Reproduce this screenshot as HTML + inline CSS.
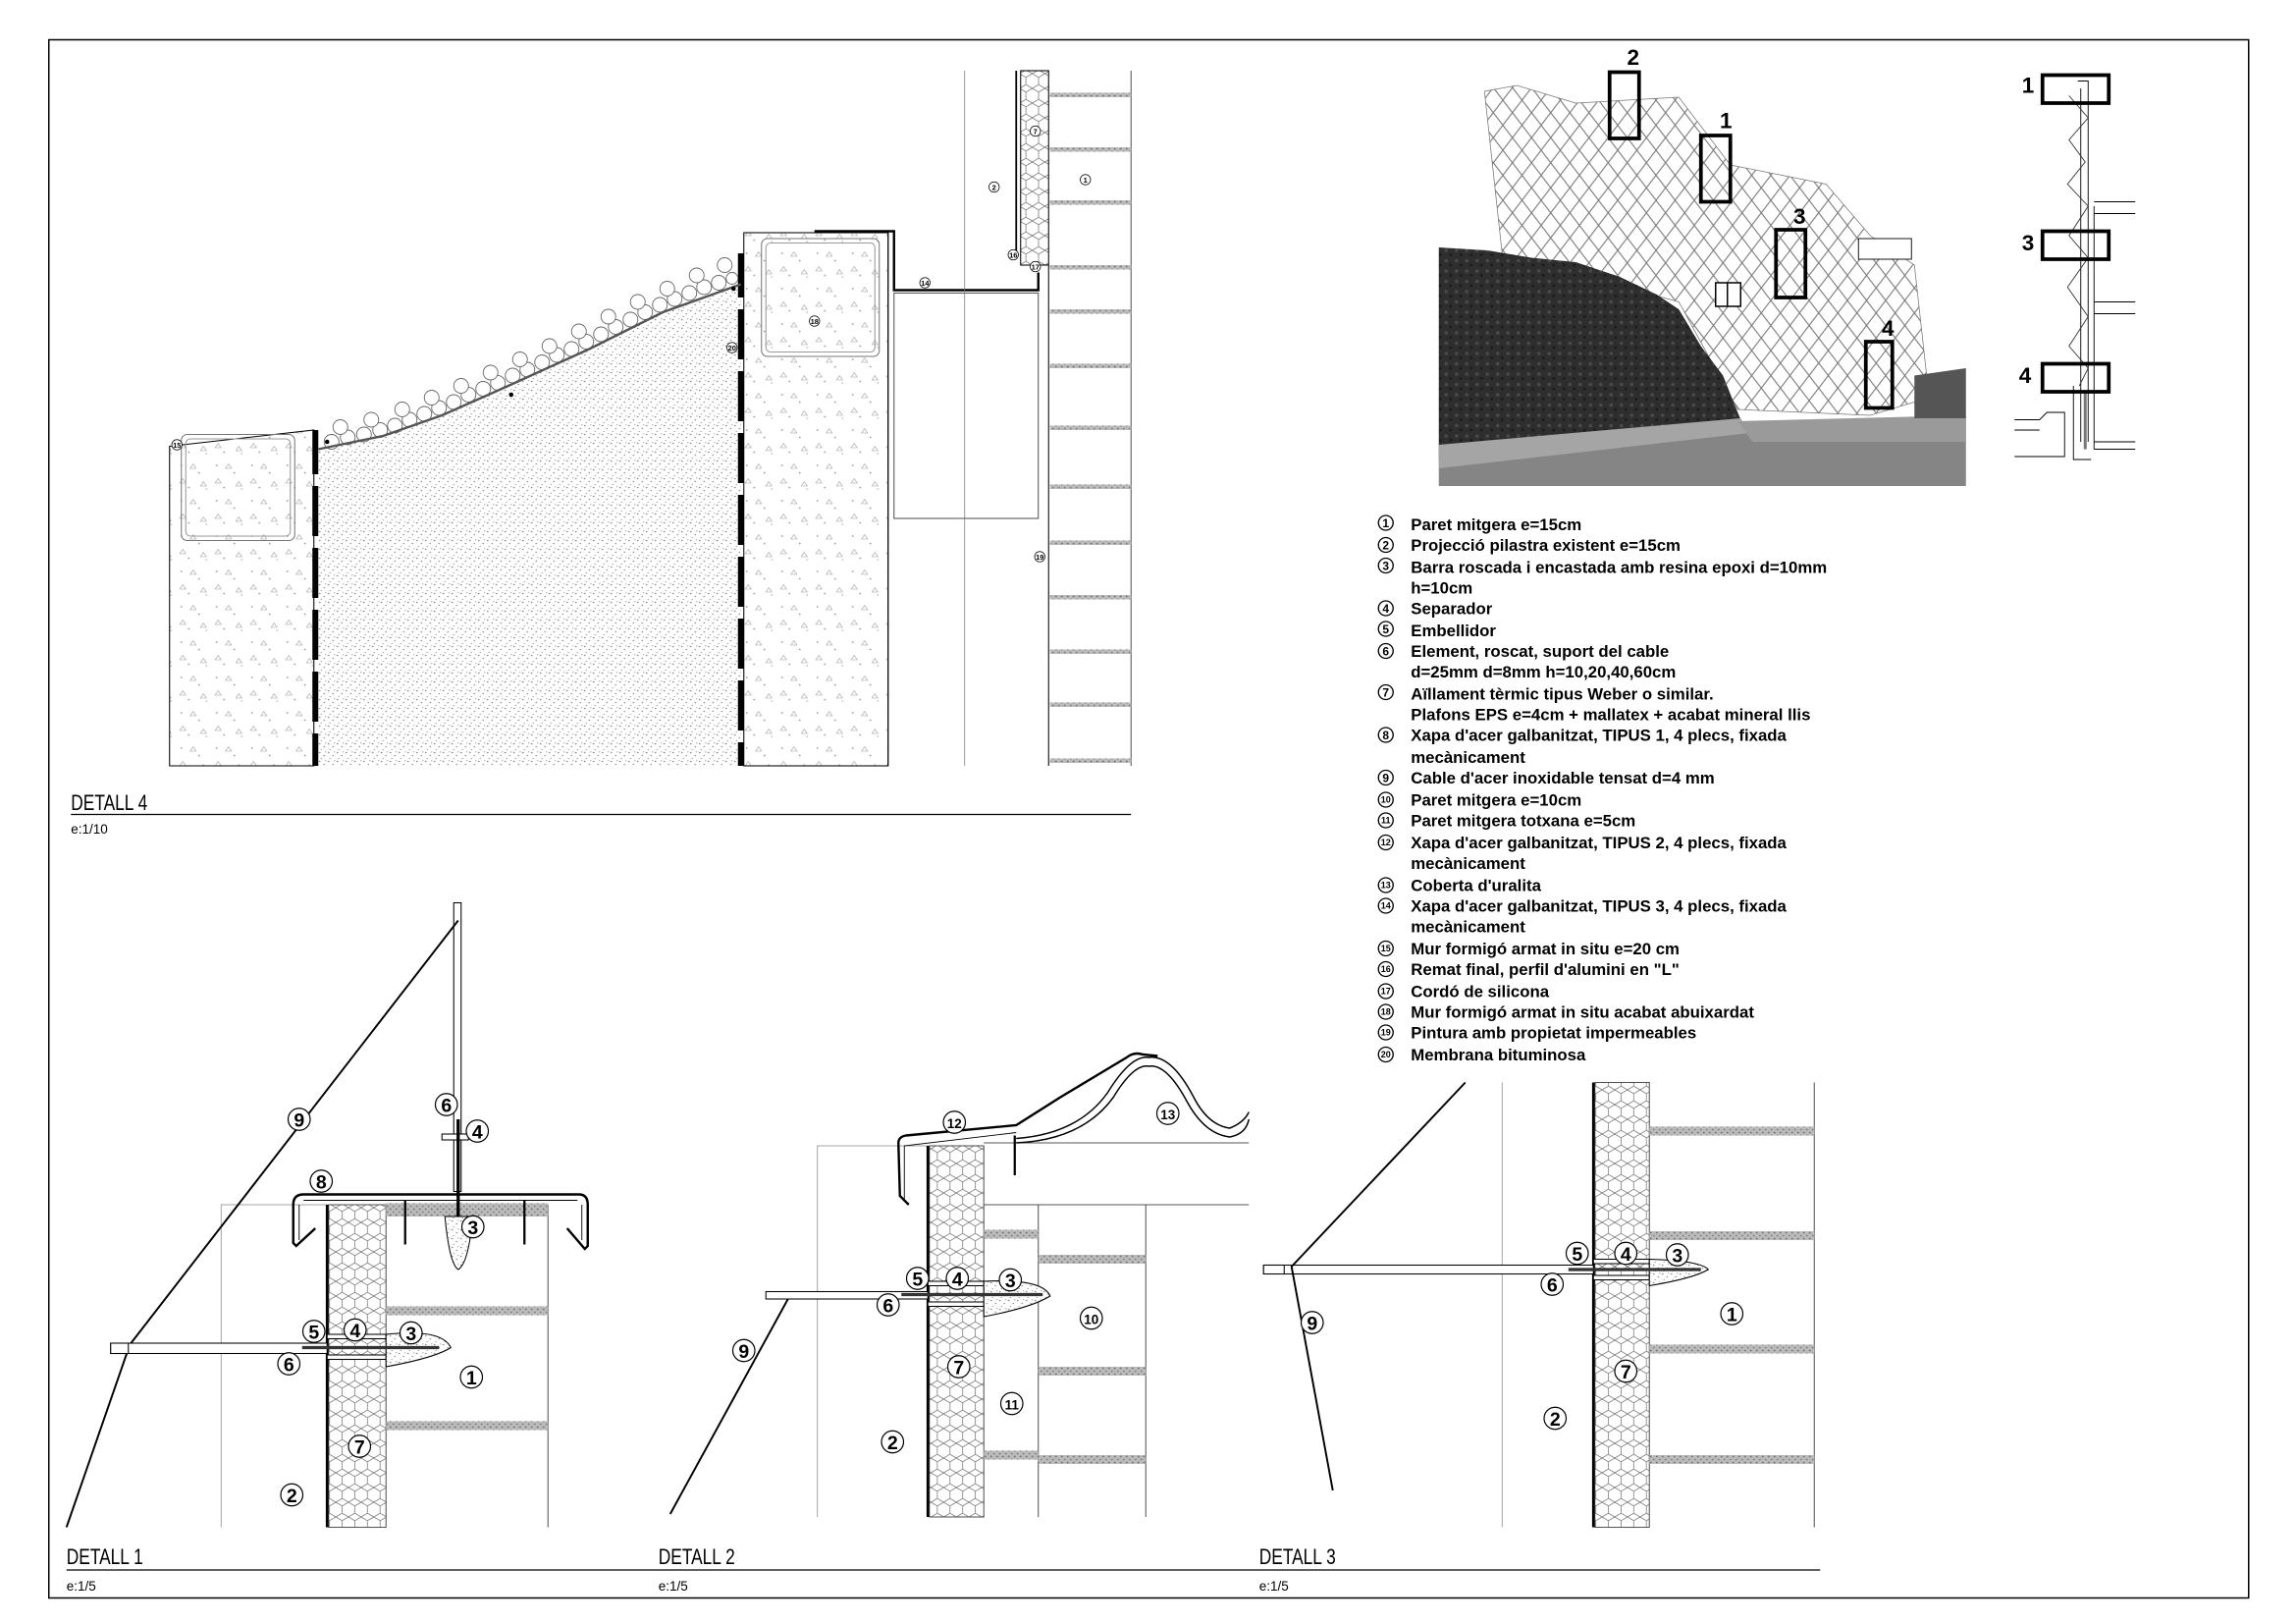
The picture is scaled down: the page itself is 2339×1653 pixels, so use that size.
<!DOCTYPE html>
<html><head><meta charset="utf-8"><style>
html,body{margin:0;padding:0;background:#fff}
svg{display:block}
.t{font-family:"Liberation Sans",sans-serif}
.lg{font-family:"Liberation Sans",sans-serif;font-weight:bold;font-size:11.2px;fill:#000}
.ti{font-family:"Liberation Sans",sans-serif;font-size:15px;fill:#000}
.sc{font-family:"Liberation Sans",sans-serif;font-size:9px;fill:#000}
.cn{font-family:"Liberation Sans",sans-serif;font-weight:bold;text-anchor:middle;fill:#000}
</style></head><body>
<svg width="2339" height="1653" viewBox="0 0 1559 1102" xmlns="http://www.w3.org/2000/svg">
<defs>
 <pattern id="stip" width="6" height="6" patternUnits="userSpaceOnUse">
  <rect width="6" height="6" fill="#fff"/>
  <circle cx="1" cy="1" r="0.5" fill="#777"/><circle cx="4" cy="3" r="0.5" fill="#888"/><circle cx="2" cy="5" r="0.45" fill="#999"/><circle cx="5" cy="0.5" r="0.4" fill="#999"/>
 </pattern>
 <pattern id="conc" width="24" height="24" patternUnits="userSpaceOnUse">
  <rect width="24" height="24" fill="#fff"/>
  <circle cx="3" cy="4" r="0.6" fill="#999"/><circle cx="15" cy="9" r="0.6" fill="#999"/><circle cx="8" cy="19" r="0.6" fill="#999"/><circle cx="20" cy="20" r="0.5" fill="#aaa"/>
  <path d="M11 3 l2 3 h-4z M4 13 l2 3 h-4z M18 15 l2 3 h-4z" fill="none" stroke="#999" stroke-width="0.4"/>
 </pattern>
 <pattern id="hex" width="8.6" height="10" patternUnits="userSpaceOnUse">
  <rect width="8.6" height="10" fill="#fff"/>
  <path d="M0 2.5 L4.3 0 L8.6 2.5 L8.6 7.5 L4.3 10 L0 7.5 Z" fill="none" stroke="#777" stroke-width="0.5"/>
 </pattern>
 <pattern id="band" width="4" height="4" patternUnits="userSpaceOnUse">
  <rect width="4" height="4" fill="#bbb"/><circle cx="1" cy="1" r="0.6" fill="#666"/><circle cx="3" cy="3" r="0.6" fill="#777"/>
 </pattern>
 <pattern id="dia" width="13" height="17" patternUnits="userSpaceOnUse">
  <path d="M0 8.5 L6.5 0 L13 8.5 L6.5 17 Z" fill="none" stroke="#777" stroke-width="0.7"/>
 </pattern>
 <pattern id="rock" width="7" height="7" patternUnits="userSpaceOnUse">
  <rect width="7" height="7" fill="#2e2e2e"/><circle cx="2" cy="2" r="1.2" fill="#4a4a4a"/><circle cx="5" cy="5" r="1" fill="#1c1c1c"/>
 </pattern>
</defs>

<rect x="33" y="27" width="1494" height="1058" fill="none" stroke="#000" stroke-width="1"/>

<!-- ============ DETAIL 4 ============ -->
<g stroke="#000" stroke-width="0.7">
 <polygon points="115,303 213,292 213,520 115,520" fill="url(#conc)"/>
 <rect x="123" y="295" width="77" height="72" rx="4" fill="none" stroke="#777"/>
 <rect x="126" y="298" width="71" height="66" rx="3" fill="none" stroke="#999"/>
 <path d="M216,305 L260,296 L300,282 L345,262 L400,237 L450,212 L503,193 L503,520 L216,520 Z" fill="url(#stip)" stroke="none"/>
 <rect x="505" y="158" width="98" height="362" fill="url(#conc)"/>
 <rect x="517" y="162" width="80" height="80" rx="4" fill="none" stroke="#777"/>
 <rect x="520" y="165" width="74" height="74" rx="3" fill="none" stroke="#999"/>
 <path d="M553,157 L607,157 L607,197 L705,197 L705,185" fill="none" stroke="#000" stroke-width="1.6"/>
 <rect x="607" y="199" width="98" height="153" fill="none" stroke="#555"/>
 <line x1="655" y1="48" x2="655" y2="520" stroke="#777" stroke-width="0.5"/>
 <line x1="603" y1="158" x2="603" y2="520"/>
 <rect x="693" y="48" width="19" height="132" fill="url(#hex)"/>
 <line x1="690" y1="48" x2="690" y2="175" stroke-width="1.2"/>
 <line x1="712" y1="180" x2="712" y2="520"/>
 <line x1="768" y1="48" x2="768" y2="520" stroke="#555"/>
</g>
<g fill="#000">
 <rect x="212" y="292" width="4" height="30"/><rect x="212" y="330" width="4" height="34"/><rect x="212" y="372" width="4" height="34"/><rect x="212" y="414" width="4" height="34"/><rect x="212" y="456" width="4" height="34"/><rect x="212" y="498" width="4" height="22"/>
 <rect x="501" y="172" width="4" height="30"/><rect x="501" y="210" width="4" height="34"/><rect x="501" y="252" width="4" height="34"/><rect x="501" y="294" width="4" height="34"/><rect x="501" y="336" width="4" height="34"/><rect x="501" y="378" width="4" height="34"/><rect x="501" y="420" width="4" height="34"/><rect x="501" y="462" width="4" height="34"/><rect x="501" y="504" width="4" height="16"/>
</g>
<g fill="url(#band)">
 <rect x="713" y="63" width="55" height="3"/><rect x="713" y="100" width="55" height="3"/><rect x="713" y="136" width="55" height="3"/><rect x="713" y="180" width="55" height="3"/><rect x="713" y="210" width="55" height="3"/><rect x="713" y="247" width="55" height="3"/><rect x="713" y="289" width="55" height="3"/><rect x="713" y="329" width="55" height="3"/><rect x="713" y="367" width="55" height="3"/><rect x="713" y="404" width="55" height="3"/><rect x="713" y="441" width="55" height="3"/><rect x="713" y="477" width="55" height="3"/><rect x="713" y="515" width="55" height="3"/>
</g>
<!-- gravel (two rows) -->
<g fill="#fff" stroke="#666" stroke-width="0.6">
 <circle cx="225" cy="300" r="5"/><circle cx="236" cy="297" r="5"/><circle cx="247" cy="295" r="5"/><circle cx="258" cy="292" r="5"/><circle cx="268" cy="289" r="5"/><circle cx="278" cy="285" r="5"/><circle cx="288" cy="281" r="5"/><circle cx="298" cy="277" r="5"/><circle cx="308" cy="273" r="5"/><circle cx="318" cy="268" r="5"/><circle cx="328" cy="264" r="5"/><circle cx="338" cy="260" r="5"/><circle cx="348" cy="255" r="5"/><circle cx="358" cy="251" r="5"/><circle cx="368" cy="246" r="5"/><circle cx="378" cy="241" r="5"/><circle cx="388" cy="237" r="5"/><circle cx="398" cy="232" r="5"/><circle cx="408" cy="227" r="5"/><circle cx="418" cy="222" r="5"/><circle cx="428" cy="217" r="5"/><circle cx="438" cy="212" r="5"/><circle cx="448" cy="207" r="5"/><circle cx="458" cy="203" r="5"/><circle cx="468" cy="199" r="5"/><circle cx="478" cy="195" r="5"/><circle cx="488" cy="192" r="5"/><circle cx="497" cy="189" r="4"/>
 <circle cx="231" cy="290" r="5"/><circle cx="252" cy="285" r="5"/><circle cx="273" cy="278" r="5"/><circle cx="293" cy="270" r="5"/><circle cx="313" cy="262" r="5"/><circle cx="333" cy="253" r="5"/><circle cx="353" cy="244" r="5"/><circle cx="373" cy="235" r="5"/><circle cx="393" cy="225" r="5"/><circle cx="413" cy="215" r="5"/><circle cx="433" cy="205" r="5"/><circle cx="453" cy="196" r="5"/><circle cx="473" cy="187" r="5"/><circle cx="492" cy="180" r="5"/>
</g>
<path d="M216,305 L260,296 L300,282 L345,262 L400,237 L450,212 L503,193" fill="none" stroke="#555" stroke-width="1.6"/>
<g fill="#000"><circle cx="222" cy="300" r="1.5"/><circle cx="347" cy="268" r="1.5"/><circle cx="498" cy="196" r="1.5"/></g>
<g stroke="#000" stroke-width="0.5" fill="#fff">
 <circle cx="120" cy="302" r="3.5"/><circle cx="497" cy="236" r="3.5"/><circle cx="553" cy="218" r="3.5"/><circle cx="628" cy="192" r="3.5"/><circle cx="688" cy="173" r="3.5"/><circle cx="703" cy="181" r="3.5"/><circle cx="706" cy="378" r="3.5"/><circle cx="703" cy="89" r="3.5"/><circle cx="675" cy="127" r="3.5"/><circle cx="737" cy="122" r="3.5"/>
</g>
<g class="cn" font-size="5">
 <text x="120" y="304">15</text><text x="497" y="238">20</text><text x="553" y="220">18</text><text x="628" y="194">14</text><text x="688" y="175">16</text><text x="703" y="183">17</text><text x="706" y="380">19</text><text x="703" y="91">7</text><text x="675" y="129">2</text><text x="737" y="124">1</text>
</g>
<text class="ti" x="48" y="550" textLength="52" lengthAdjust="spacingAndGlyphs">DETALL 4</text>
<line x1="48" y1="553" x2="768" y2="553" stroke="#000" stroke-width="0.8"/>
<text class="sc" x="48" y="566">e:1/10</text>

<!-- ============ DETAIL 1 ============ -->
<g stroke="#000" stroke-width="0.7" fill="none">
 <path d="M150,1037 L150,818 L222,818" stroke="#888" stroke-width="0.5"/>
 <rect x="223" y="818" width="39" height="219" fill="url(#hex)" stroke="#555"/>
 <line x1="222" y1="818" x2="222" y2="1037" stroke-width="1.8"/>
 <line x1="372" y1="818" x2="372" y2="1037" stroke="#555"/>
 <rect x="262" y="817" width="110" height="9" fill="url(#band)" stroke="none"/>
 <rect x="262" y="887" width="110" height="6" fill="url(#band)" stroke="none"/>
 <rect x="262" y="965" width="110" height="6" fill="url(#band)" stroke="none"/>
 <path d="M214,834 L201,846 L199,844 L199,818 Q199,811 206,811 L393,811 Q399,811 399,818 L399,846 L397,848 L385,834" stroke-width="1.6"/>
 <path d="M203,818 L203,842 M395,818 L395,842 M206,815 L392,815" stroke-width="0.6"/>
 <path d="M275,815 L275,845 M356,815 L356,845" stroke-width="1.5"/>
 <rect x="308" y="613" width="5" height="196" fill="#fff"/>
 <rect x="300" y="770" width="18" height="4" fill="#fff"/>
 <line x1="311" y1="760" x2="311" y2="840" stroke-width="2.2"/>
 <path d="M302,826 Q305,858 311,862 Q318,858 321,826 Z" fill="url(#stip)"/>
 <path d="M311,625 L88,913 L45,1037" stroke-width="1.3"/>
 <rect x="75" y="912" width="147" height="7" fill="#fff"/>
 <rect x="75" y="912" width="12" height="7" fill="#fff"/>
 <rect x="222" y="906" width="40" height="3" fill="#fff"/>
 <rect x="222" y="920" width="40" height="3" fill="#fff"/>
 <path d="M262,906 Q300,902 306,915 Q295,922 262,928 Z" fill="url(#stip)"/>
 <line x1="205" y1="915" x2="298" y2="915" stroke-width="2.2" stroke="#333"/>
</g>
<g stroke="#000" stroke-width="0.8" fill="#fff">
 <circle cx="203" cy="760" r="7.5"/><circle cx="303" cy="750" r="7.5"/><circle cx="324" cy="768" r="7.5"/><circle cx="218" cy="802" r="7.5"/><circle cx="321" cy="833" r="7.5"/><circle cx="213" cy="904" r="7.5"/><circle cx="241" cy="903" r="7.5"/><circle cx="279" cy="905" r="7.5"/><circle cx="196" cy="926" r="7.5"/><circle cx="320" cy="935" r="7.5"/><circle cx="244" cy="982" r="7.5"/><circle cx="198" cy="1015" r="7.5"/>
</g>
<g class="cn" font-size="13">
 <text x="203" y="765">9</text><text x="303" y="755">6</text><text x="324" y="773">4</text><text x="218" y="807">8</text><text x="321" y="838">3</text><text x="213" y="909">5</text><text x="241" y="908">4</text><text x="279" y="910">3</text><text x="196" y="931">6</text><text x="320" y="940">1</text><text x="244" y="987">7</text><text x="198" y="1020">2</text>
</g>

<!-- ============ DETAIL 2 ============ -->
<g stroke="#000" stroke-width="0.7" fill="none">
 <path d="M555,1030 L555,778 L630,778" stroke="#888" stroke-width="0.5"/>
 <rect x="631" y="778" width="37" height="252" fill="url(#hex)" stroke="#555"/>
 <line x1="630" y1="778" x2="630" y2="1030" stroke-width="1.8"/>
 <path d="M668,776 L848,776 M668,818 L848,818" stroke="#555"/>
 <line x1="705" y1="818" x2="705" y2="1030" stroke="#555"/>
 <line x1="778" y1="818" x2="778" y2="1030" stroke="#555"/>
 <g fill="url(#band)" stroke="none">
  <rect x="668" y="835" width="37" height="6"/><rect x="668" y="985" width="37" height="6"/>
  <rect x="705" y="852" width="73" height="6"/><rect x="705" y="928" width="73" height="6"/><rect x="705" y="988" width="73" height="6"/>
 </g>
 <path d="M617,818 L611,812 L610,776 Q610,772 615,771 L690,764 L720,745 L765,718 Q770,714 776,716 L786,717" stroke-width="1.6"/>
 <path d="M614,815 L614,778 L690,769" stroke-width="0.6"/>
 <path d="M689,771 L689,798" stroke-width="1.5"/>
 <path d="M690,776 Q735,774 756,745 Q770,722 780,724 Q792,722 806,748 Q818,770 835,772 Q846,770 848,760" stroke-width="1"/>
 <path d="M690,773 Q732,770 752,742 Q768,716 780,718 Q795,716 810,744 Q820,764 835,766 Q845,762 848,755" stroke-width="1"/>
 <rect x="520" y="877" width="110" height="5" fill="#fff"/>
 <rect x="630" y="870" width="38" height="3" fill="#fff"/>
 <rect x="630" y="884" width="38" height="3" fill="#fff"/>
 <path d="M668,870 Q708,868 713,880 Q700,888 668,894 Z" fill="url(#stip)"/>
 <line x1="612" y1="879" x2="708" y2="879" stroke-width="2.2" stroke="#333"/>
 <path d="M535,882 L455,1028" stroke-width="1.3"/>
</g>
<g stroke="#000" stroke-width="0.8" fill="#fff">
 <circle cx="648" cy="762" r="7.5"/><circle cx="793" cy="756" r="7.5"/><circle cx="623" cy="868" r="7.5"/><circle cx="650" cy="868" r="7.5"/><circle cx="686" cy="869" r="7.5"/><circle cx="603" cy="886" r="7.5"/><circle cx="741" cy="895" r="7.5"/><circle cx="505" cy="917" r="7.5"/><circle cx="651" cy="928" r="7.5"/><circle cx="687" cy="953" r="7.5"/><circle cx="606" cy="979" r="7.5"/>
</g>
<g class="cn" font-size="13">
 <text x="648" y="766" font-size="9">12</text><text x="793" y="760" font-size="9">13</text><text x="623" y="873">5</text><text x="650" y="873">4</text><text x="686" y="874">3</text><text x="603" y="891">6</text><text x="741" y="899" font-size="9">10</text><text x="505" y="922">9</text><text x="651" y="933">7</text><text x="687" y="957" font-size="9">11</text><text x="606" y="984">2</text>
</g>

<!-- ============ DETAIL 3 ============ -->
<g stroke="#000" stroke-width="0.7" fill="none">
 <line x1="1020" y1="735" x2="1020" y2="1037" stroke="#888" stroke-width="0.5"/>
 <rect x="1083" y="735" width="37" height="302" fill="url(#hex)" stroke="#555"/>
 <line x1="1082" y1="735" x2="1082" y2="1037" stroke-width="1.8"/>
 <line x1="1232" y1="735" x2="1232" y2="1037" stroke="#555"/>
 <g fill="url(#band)" stroke="none">
  <rect x="1120" y="765" width="112" height="6"/><rect x="1120" y="836" width="112" height="6"/><rect x="1120" y="913" width="112" height="6"/><rect x="1120" y="988" width="112" height="6"/>
 </g>
 <rect x="858" y="859" width="224" height="6" fill="#fff"/>
 <rect x="858" y="859" width="14" height="6" fill="#fff"/>
 <rect x="1082" y="855" width="38" height="3" fill="#fff"/>
 <rect x="1082" y="866" width="38" height="3" fill="#fff"/>
 <path d="M1120,855 Q1155,856 1160,862 Q1150,868 1120,873 Z" fill="url(#stip)"/>
 <line x1="1065" y1="862" x2="1155" y2="862" stroke-width="2.2" stroke="#333"/>
 <path d="M995,735 L877,860 L905,1012" stroke-width="1.3"/>
</g>
<g stroke="#000" stroke-width="0.8" fill="#fff">
 <circle cx="1071" cy="851" r="7.5"/><circle cx="1104" cy="851" r="7.5"/><circle cx="1139" cy="852" r="7.5"/><circle cx="1054" cy="872" r="7.5"/><circle cx="1176" cy="892" r="7.5"/><circle cx="891" cy="898" r="7.5"/><circle cx="1104" cy="931" r="7.5"/><circle cx="1056" cy="963" r="7.5"/>
</g>
<g class="cn" font-size="13">
 <text x="1071" y="856">5</text><text x="1104" y="856">4</text><text x="1139" y="857">3</text><text x="1054" y="877">6</text><text x="1176" y="897">1</text><text x="891" y="903">9</text><text x="1104" y="936">7</text><text x="1056" y="968">2</text>
</g>

<text class="ti" x="45" y="1062" textLength="52" lengthAdjust="spacingAndGlyphs">DETALL 1</text>
<text class="ti" x="447" y="1062" textLength="52" lengthAdjust="spacingAndGlyphs">DETALL 2</text>
<text class="ti" x="855" y="1062" textLength="52" lengthAdjust="spacingAndGlyphs">DETALL 3</text>
<line x1="45" y1="1066" x2="1236" y2="1066" stroke="#000" stroke-width="0.8"/>
<text class="sc" x="45" y="1080">e:1/5</text>
<text class="sc" x="447" y="1080">e:1/5</text>
<text class="sc" x="855" y="1080">e:1/5</text>

<!-- ============ PHOTO ============ -->
<g>
 <polygon points="1008,62 1030,58 1070,70 1140,66 1175,112 1240,125 1270,160 1300,180 1310,270 1270,282 1180,278 1140,205 1020,172" fill="#fff" stroke="#777" stroke-width="0.5"/>
 <polygon points="1008,62 1030,58 1070,70 1140,66 1175,112 1240,125 1270,160 1300,180 1310,270 1270,282 1180,278 1140,205 1020,172" fill="url(#dia)"/>
 <polygon points="977,168 1010,170 1040,175 1070,178 1100,188 1125,200 1140,210 1155,235 1170,255 1180,280 1185,292 977,312" fill="url(#rock)"/>
 <polygon points="977,312 1185,290 1335,284 1335,330 977,330" fill="#858585"/>
 <polygon points="977,302 1182,284 1188,294 977,318" fill="#a5a5a5"/>
 <polygon points="1180,286 1335,282 1335,300 1190,300" fill="#9a9a9a"/>
 <polygon points="1300,255 1335,250 1335,284 1300,284" fill="#555"/>
 <rect x="1165" y="192" width="17" height="16" fill="#fff" stroke="#000" stroke-width="1"/>
 <line x1="1173" y1="192" x2="1173" y2="208" stroke="#000"/>
 <rect x="1262" y="162" width="36" height="14" fill="#fff" stroke="#000" stroke-width="0.6"/>
 <g fill="none" stroke="#000" stroke-width="2.5">
  <rect x="1093" y="49" width="20" height="45"/><rect x="1155" y="92" width="20" height="45"/><rect x="1206" y="156" width="20" height="46"/><rect x="1267" y="232" width="18" height="45"/>
 </g>
 <g class="t" font-weight="bold" font-size="15" text-anchor="middle">
  <text x="1109" y="44">2</text><text x="1172" y="87">1</text><text x="1222" y="152">3</text><text x="1282" y="228">4</text>
 </g>
</g>

<g fill="none" stroke="#000" stroke-width="0.6">
 <path d="M1411,55 L1418,55 L1418,300 M1413,60 L1413,300" />
 <path d="M1405,65 L1418,80 L1405,95 L1416,110 L1404,125 L1418,140 L1405,160 L1418,175 L1404,195 L1418,215 L1405,235 L1418,250 L1412,262" stroke="#333"/>
 <path d="M1422,137 L1450,137 M1422,145 L1450,145 M1422,205 L1450,205 M1422,213 L1450,213 M1422,300 L1450,300 M1422,305 L1450,305 M1422,140 L1422,305"/>
 <path d="M1368,285 L1385,285 L1390,280 L1402,280 L1402,310 L1368,310 M1368,292 L1385,292 M1408,262 L1408,312 L1420,312"/>
 <path d="M1416,265 L1416,305" stroke-width="2" stroke="#777"/>
</g>
<g fill="none" stroke="#000" stroke-width="2.5">
 <rect x="1387" y="51" width="45" height="19"/><rect x="1387" y="157" width="45" height="19"/><rect x="1387" y="247" width="45" height="19"/>
</g>
<g class="t" font-weight="bold" font-size="15">
 <text x="1373" y="63">1</text><text x="1373" y="170">3</text><text x="1371" y="260">4</text>
</g>

<!-- ============ LEGEND ============ -->
<g stroke="#000" stroke-width="0.9" fill="#fff">
 <circle cx="941" cy="355" r="5"/><circle cx="941" cy="370" r="5"/><circle cx="941" cy="384" r="5"/><circle cx="941" cy="413" r="5"/><circle cx="941" cy="427" r="5"/><circle cx="941" cy="442" r="5"/><circle cx="941" cy="470" r="5"/><circle cx="941" cy="499" r="5"/><circle cx="941" cy="528" r="5"/><circle cx="941" cy="543" r="5"/><circle cx="941" cy="557" r="5"/><circle cx="941" cy="572" r="5"/><circle cx="941" cy="601" r="5"/><circle cx="941" cy="615" r="5"/><circle cx="941" cy="644" r="5"/><circle cx="941" cy="658" r="5"/><circle cx="941" cy="673" r="5"/><circle cx="941" cy="687" r="5"/><circle cx="941" cy="701" r="5"/><circle cx="941" cy="716" r="5"/>
</g>
<g class="cn" font-size="8">
 <text x="941" y="358">1</text><text x="941" y="373">2</text><text x="941" y="387">3</text><text x="941" y="416">4</text><text x="941" y="430">5</text><text x="941" y="445">6</text><text x="941" y="473">7</text><text x="941" y="502">8</text><text x="941" y="531">9</text>
 <text x="941" y="545" font-size="6">10</text><text x="941" y="559" font-size="6">11</text><text x="941" y="574" font-size="6">12</text><text x="941" y="603" font-size="6">13</text><text x="941" y="617" font-size="6">14</text><text x="941" y="646" font-size="6">15</text><text x="941" y="660" font-size="6">16</text><text x="941" y="675" font-size="6">17</text><text x="941" y="689" font-size="6">18</text><text x="941" y="703" font-size="6">19</text><text x="941" y="718" font-size="6">20</text>
</g>
<g class="lg">
 <text x="958" y="360">Paret mitgera  e=15cm</text>
 <text x="958" y="374">Projecció pilastra existent  e=15cm</text>
 <text x="958" y="389">Barra roscada i encastada amb resina epoxi   d=10mm</text>
 <text x="958" y="403">h=10cm</text>
 <text x="958" y="417">Separador</text>
 <text x="958" y="432">Embellidor</text>
 <text x="958" y="446">Element, roscat, suport del cable</text>
 <text x="958" y="460">d=25mm d=8mm  h=10,20,40,60cm</text>
 <text x="958" y="475">Aïllament tèrmic tipus Weber o similar.</text>
 <text x="958" y="489">Plafons EPS e=4cm + mallatex + acabat mineral llis</text>
 <text x="958" y="503">Xapa d'acer galbanitzat, TIPUS 1, 4 plecs, fixada</text>
 <text x="958" y="518">mecànicament</text>
 <text x="958" y="532">Cable d'acer inoxidable tensat  d=4 mm</text>
 <text x="958" y="547">Paret mitgera  e=10cm</text>
 <text x="958" y="561">Paret mitgera  totxana e=5cm</text>
 <text x="958" y="576">Xapa d'acer galbanitzat, TIPUS 2, 4 plecs, fixada</text>
 <text x="958" y="590">mecànicament</text>
 <text x="958" y="605">Coberta d'uralita</text>
 <text x="958" y="619">Xapa d'acer galbanitzat, TIPUS 3, 4 plecs, fixada</text>
 <text x="958" y="633">mecànicament</text>
 <text x="958" y="648">Mur formigó armat in situ e=20 cm</text>
 <text x="958" y="662">Remat final, perfil d'alumini en "L"</text>
 <text x="958" y="677">Cordó de silicona</text>
 <text x="958" y="691">Mur formigó armat in situ acabat abuixardat</text>
 <text x="958" y="705">Pintura amb propietat impermeables</text>
 <text x="958" y="720">Membrana bituminosa</text>
</g>
</svg>
</body></html>
